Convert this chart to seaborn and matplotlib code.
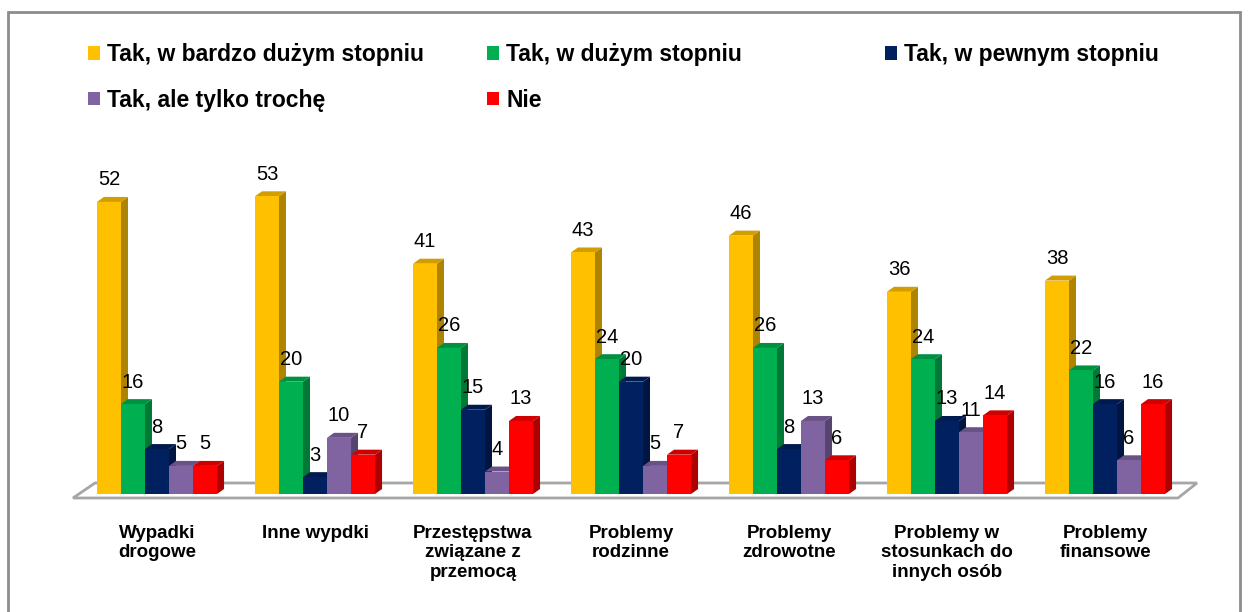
"""
Wykres słupkowy (styl 3D) - stopień wpływu zdarzeń.
"""
import matplotlib
matplotlib.use('Agg')
import matplotlib.pyplot as plt
import seaborn as sns
import pandas as pd
from matplotlib.patches import Polygon, Patch, Rectangle
from matplotlib.transforms import IdentityTransform
from matplotlib.colors import to_rgb

categories = ['Wypadki\ndrogowe', 'Inne wypdki', 'Przestępstwa\nzwiązane z\nprzemocą',
              'Problemy\nrodzinne', 'Problemy\nzdrowotne',
              'Problemy w\nstosunkach do\ninnych osób', 'Problemy\nfinansowe']
series = ['Tak, w bardzo dużym stopniu', 'Tak, w dużym stopniu', 'Tak, w pewnym stopniu',
          'Tak, ale tylko trochę', 'Nie']
bardzo_duzy = [52, 53, 41, 43, 46, 36, 38]
duzy = [16, 20, 26, 24, 26, 24, 22]
pewny = [8, 3, 15, 20, 8, 13, 16]
troche = [5, 10, 4, 5, 13, 11, 6]
nie = [5, 7, 13, 7, 6, 14, 16]
colors = ['#FFC000', '#00B050', '#002060', '#8064A2', '#FF0000']

W, H = 1250, 612
DX, DY = 7, 5  # depth of the fake 3D faces, pixels

sns.set_style('white')
plt.rcParams['font.family'] = ['Liberation Sans', 'DejaVu Sans']
plt.rcParams['text.color'] = 'black'
plt.rcParams['xtick.color'] = 'black'

rows = []
for name, vals in zip(series, [bardzo_duzy, duzy, pewny, troche, nie]):
    for cat, v in zip(categories, vals):
        rows.append({'kategoria': cat, 'odpowiedz': name, 'wartosc': v})
df = pd.DataFrame(rows)

fig = plt.figure(figsize=(W / 100, H / 100), dpi=100)
ax = fig.add_axes([78 / W, (H - 494) / H, 1106 / W, 337 / H])
sns.barplot(data=df, x='kategoria', y='wartosc', hue='odpowiedz', hue_order=series,
            order=categories, palette=colors, width=0.76, saturation=1,
            errorbar=None, legend=False, linewidth=0, ax=ax)
ax.set_xlim(-0.5, 6.5)
ax.set_ylim(0, 60)

bars = sorted([p for p in ax.patches if isinstance(p, Rectangle) and p.get_height() > 0],
              key=lambda p: p.get_x())

# floor
tr = ax.transData
bl = tr.transform((-0.5, 0))
br = tr.transform((6.5, 0))
floor = [(bl[0] - 5, bl[1] - 4), (br[0] - 6, br[1] - 4),
         (br[0] + 13, br[1] + 11), (bl[0] + 17, bl[1] + 11)]
ax.add_patch(Polygon(floor, closed=True, transform=IdentityTransform(), facecolor='white',
                     edgecolor='#a6a6a6', linewidth=2, clip_on=False, zorder=1))

# side and top faces
for k, p in enumerate(bars):
    x0, y0 = p.get_x(), p.get_y()
    x1, y1 = x0 + p.get_width(), y0 + p.get_height()
    X0, Y0 = tr.transform((x0, y0))
    X1, Y1 = tr.transform((x1, y1))
    rgb = to_rgb(p.get_facecolor())
    side_c = tuple(c * 0.68 for c in rgb)
    top_c = tuple(c * 0.82 for c in rgb)
    side = [(X1, Y0), (X1 + DX, Y0 + DY), (X1 + DX, Y1 + DY), (X1, Y1)]
    top = [(X0, Y1), (X0 + DX, Y1 + DY), (X1 + DX, Y1 + DY), (X1, Y1)]
    ax.add_patch(Polygon(side, closed=True, transform=IdentityTransform(), facecolor=side_c,
                         linewidth=0, clip_on=False, zorder=2 + 2 * k))
    ax.add_patch(Polygon(top, closed=True, transform=IdentityTransform(), facecolor=top_c,
                         linewidth=0, clip_on=False, zorder=2 + 2 * k))
    p.set_zorder(3 + 2 * k)
    ax.annotate(f'{p.get_height():.0f}', ((x0 + x1) / 2, y1), xytext=(0, 9),
                textcoords='offset points', ha='center', va='bottom', fontsize=14.5,
                color='black', zorder=200)

ax.set_xticks(range(len(categories)))
ax.set_xticklabels(categories, fontweight='bold', fontsize=13.5)
ax.tick_params(axis='x', length=0, pad=22)
ax.set_yticks([])
ax.set_xlabel('')
ax.set_ylabel('')
for s in ax.spines.values():
    s.set_visible(False)

# legend: three columns placed like the original
handles = [Patch(facecolor=c, edgecolor='none') for c in colors]
columns = [([0, 3], 88), ([1, 4], 487), ([2], 885)]
for idx, xpix in columns:
    fig.legend([handles[i] for i in idx], [series[i] for i in idx], loc='upper left',
               bbox_to_anchor=(xpix / W, 1 - 43 / H), frameon=False, borderpad=0,
               borderaxespad=0, handlelength=0.52, handleheight=0.52, handletextpad=0.33,
               labelspacing=1.0, prop={'weight': 'bold', 'size': 16.5})

# outer frame
fig.add_artist(Rectangle((8 / W, -0.05), 1232 / W, 1.05 - 12 / H, transform=fig.transFigure,
                         fill=False, edgecolor='#8c8c8c', linewidth=2, clip_on=False))

fig.savefig('out.png', dpi=100)
plt.close(fig)
